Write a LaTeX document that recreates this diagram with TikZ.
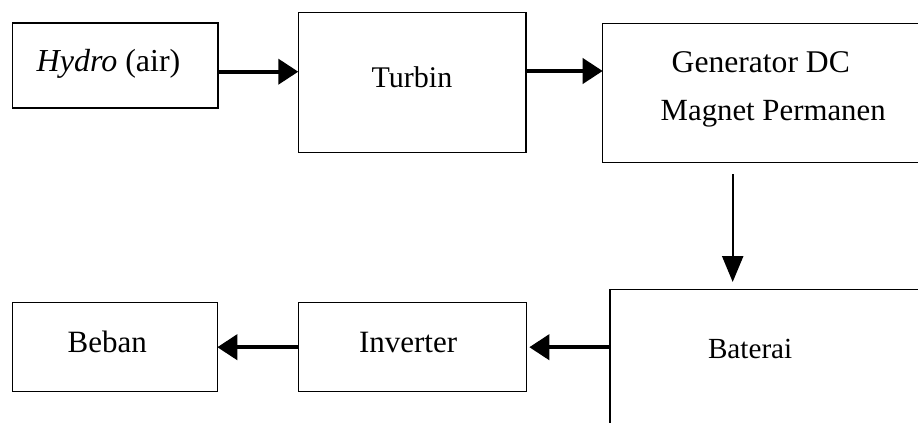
\documentclass[tikz,border=0pt]{standalone}
\usepackage{fontspec}
\setmainfont{Liberation Serif}
\usetikzlibrary{arrows.meta}

\tikzset{
  box/.style={draw=black, line width=0.65pt, anchor=north west, outer sep=0pt, inner sep=0pt},
  lbl/.style={inner sep=0pt, outer sep=0pt, anchor=base west, font=\fontsize{#1}{18pt}\selectfont},
  lbl/.default=15pt,
  flow/.style={line width=2pt, -{Triangle[length=10pt,width=12.5pt]}},
  drop/.style={line width=1.2pt, -{Triangle[length=13pt,width=10.5pt]}}
}

\begin{document}
\begin{tikzpicture}[x=0.5pt, y=-0.5pt]
  \useasboundingbox (0,0) rectangle (918,423);
  \clip (0,0) rectangle (918,423);

  % blocks
  \node[box, minimum width=102.75pt, minimum height=42.5pt] (hydro) at (12.5,23) {};
  \node[box, minimum width=113.85pt, minimum height=69.8pt] (turbin) at (298.3,12.7) {};
  \node[box, minimum width=166.15pt, minimum height=69.7pt] (gen) at (602.7,23.3) {};
  \node[box, minimum width=162.5pt, minimum height=75.35pt] (bat) at (610,289.3) {};
  \node[box, minimum width=114.2pt, minimum height=44.5pt] (inv) at (298.3,302.7) {};
  \node[box, minimum width=102.5pt, minimum height=44.5pt] (beban) at (12.3,302.7) {};

  % block texts
  \node[lbl=16pt] (thydro) at (36.7,71.7) {\textit{Hydro} (air)};
  \node[lbl] (tturbin) at (371.7,88) {Turbin};
  \node[lbl=15.8pt] (tgen1) at (671.7,72) {Generator DC};
  \node[lbl=15.4pt] (tgen2) at (660.7,120.7) {Magnet Permanen};
  \node[lbl=14.6pt] (tbat) at (708,358) {Baterai};
  \node[lbl=15.5pt] (tinv) at (359,352.7) {Inverter};
  \node[lbl=15.5pt] (tbeban) at (67.7,352) {Beban};

  % connectors
  \draw[flow] ([yshift=-3.1pt]hydro.east) -- ([yshift=-3.1pt]hydro.east -| turbin.west);
  \draw[flow] ([yshift=5.75pt]turbin.east) -- ([yshift=5.75pt]turbin.east -| gen.west);
  \draw[drop, shorten <=5.65pt, shorten >=3.65pt]
    ([xshift=65pt]gen.south west) -- ([xshift=65pt]gen.south west |- bat.north);
  \draw[flow, shorten >=1.3pt] (inv.east -| bat.west) -- (inv.east);
  \draw[flow] (inv.west) -- (beban.east);
\end{tikzpicture}
\end{document}
